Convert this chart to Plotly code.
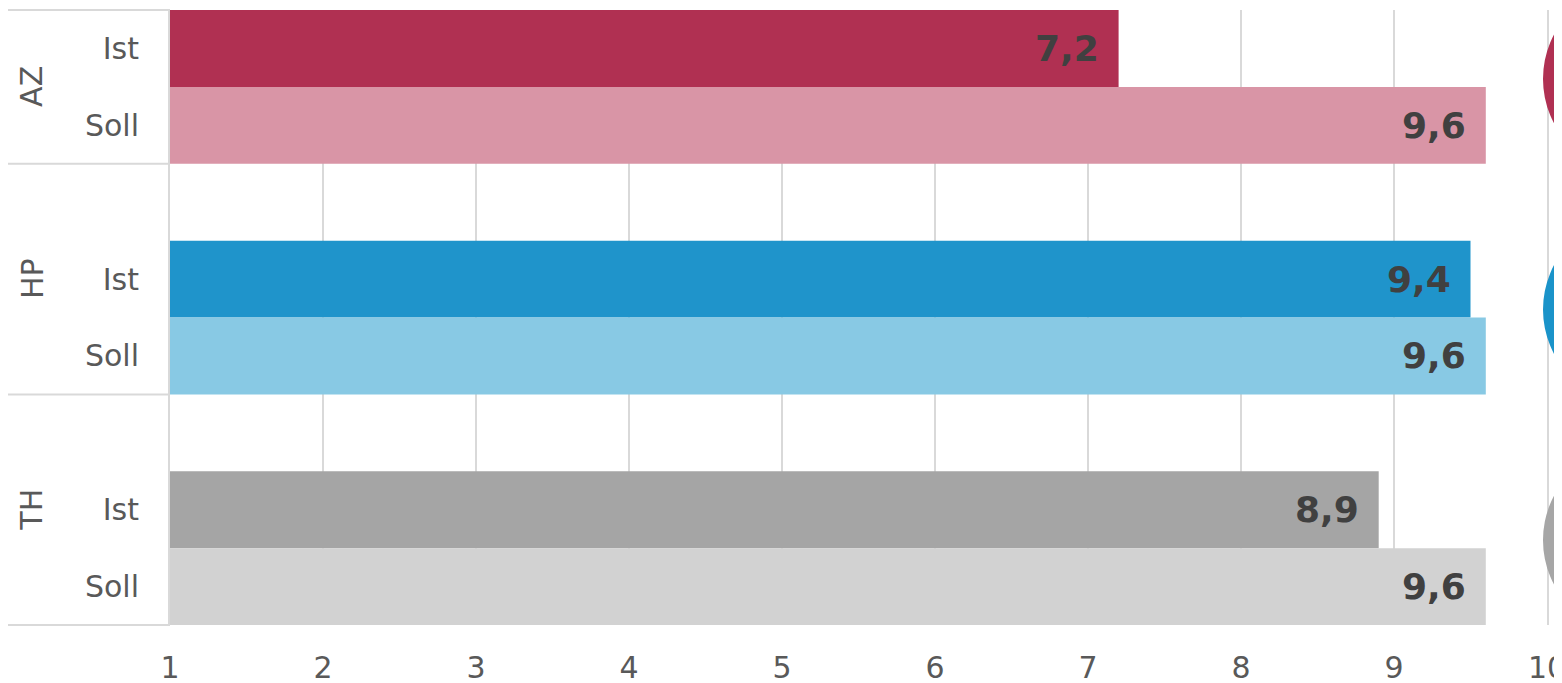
import plotly.graph_objects as go

# Daten
groups = ["AZ", "HP", "TH"]
series = ["Ist", "Soll"]
ist_values = [7.2, 9.5, 8.9]
ist_labels = ["7,2", "9,4", "8,9"]
soll_values = [9.6, 9.6, 9.6]
soll_labels = ["9,6", "9,6", "9,6"]
x_ticks = [1, 2, 3, 4, 5, 6, 7, 8, 9, 10]

ist_colors = ["#B03052", "#1F94CB", "#A5A5A5"]
soll_colors = ["#D995A6", "#88C9E4", "#D2D2D2"]
circle_colors = ["#B03052", "#1A93C9", "#A6A6A6"]

FONT = "DejaVu Sans"
GRID = "#D9D9D9"
TXT = "#595959"

# Positionen: je Gruppe eine Leerzeile davor (außer der ersten)
ys, xs, cols, labels, ticktext = [], [], [], [], []
pos = 0
group_spans = []
for i, g in enumerate(groups):
    start = pos - 0.5
    if i > 0:
        pos += 1
        start = pos - 1.5
    for s, v, c, lab in ((series[0], ist_values[i], ist_colors[i], ist_labels[i]),
                         (series[1], soll_values[i], soll_colors[i], soll_labels[i])):
        ys.append(pos)
        xs.append(v)
        cols.append(c)
        labels.append(lab)
        ticktext.append(s)
        pos += 1
    group_spans.append((start, pos - 0.5))

n_slots = pos
fig = go.Figure()

fig.add_trace(
    go.Bar(
        x=xs,
        y=ys,
        orientation="h",
        width=1.0,
        marker=dict(color=cols, line=dict(width=0)),
        hoverinfo="x+y",
    )
)

# Wertebeschriftung
for x, y, lab in zip(xs, ys, labels):
    fig.add_annotation(
        x=x, y=y, text=lab, showarrow=False, xanchor="right", yanchor="middle",
        xshift=-18, font=dict(family=FONT, size=36, color="#404040", weight="bold"),
    )

# Gruppenbeschriftung, Trennlinien, Kreise
def paper_y(v):
    return (n_slots - 0.5 - v) / n_slots

for i, (g, (a, b)) in enumerate(zip(groups, group_spans)):
    fig.add_annotation(
        x=0, xref="paper", y=(a + b) / 2, text=g, showarrow=False, textangle=-90,
        xanchor="center", yanchor="middle", xshift=-138,
        font=dict(family=FONT, size=30, color=TXT),
    )
    fig.add_shape(
        type="line", xref="paper", yref="paper", x0=-162 / 1377, x1=0,
        y0=paper_y(b), y1=paper_y(b), line=dict(color=GRID, width=2),
    )
    ist_pos, soll_pos = ys[2 * i], ys[2 * i + 1]
    fig.add_shape(
        type="circle", xref="paper", yref="y", xsizemode="pixel", ysizemode="pixel",
        xanchor=1, yanchor=(ist_pos + soll_pos) / 2, x0=-4, x1=186, y0=-87, y1=103,
        fillcolor=circle_colors[i], line=dict(width=0), layer="above",
    )

fig.add_shape(
    type="line", xref="paper", yref="paper", x0=-162 / 1377, x1=0,
    y0=1, y1=1, line=dict(color=GRID, width=2),
)

fig.update_layout(
    width=1562,
    height=683,
    margin=dict(l=162, r=23, t=2, b=66, autoexpand=False),
    paper_bgcolor="white",
    plot_bgcolor="white",
    showlegend=False,
    font=dict(family=FONT, size=30, color=TXT),
    xaxis=dict(
        range=[1, 10],
        tickvals=x_ticks,
        ticktext=[str(t) for t in x_ticks],
        showgrid=True,
        gridcolor=GRID,
        gridwidth=2,
        zeroline=False,
        showline=False,
        ticks="",
        ticklabelstandoff=22,
        tickfont=dict(family=FONT, size=30, color=TXT),
    ),
    yaxis=dict(
        range=[n_slots - 0.5, -0.5],
        tickvals=ys,
        ticktext=ticktext,
        showgrid=False,
        zeroline=False,
        showline=True,
        mirror=True,
        linecolor=GRID,
        linewidth=2,
        ticks="",
        ticklabelstandoff=23,
        tickfont=dict(family=FONT, size=30, color=TXT),
    ),
)

fig.write_html("out.html")
